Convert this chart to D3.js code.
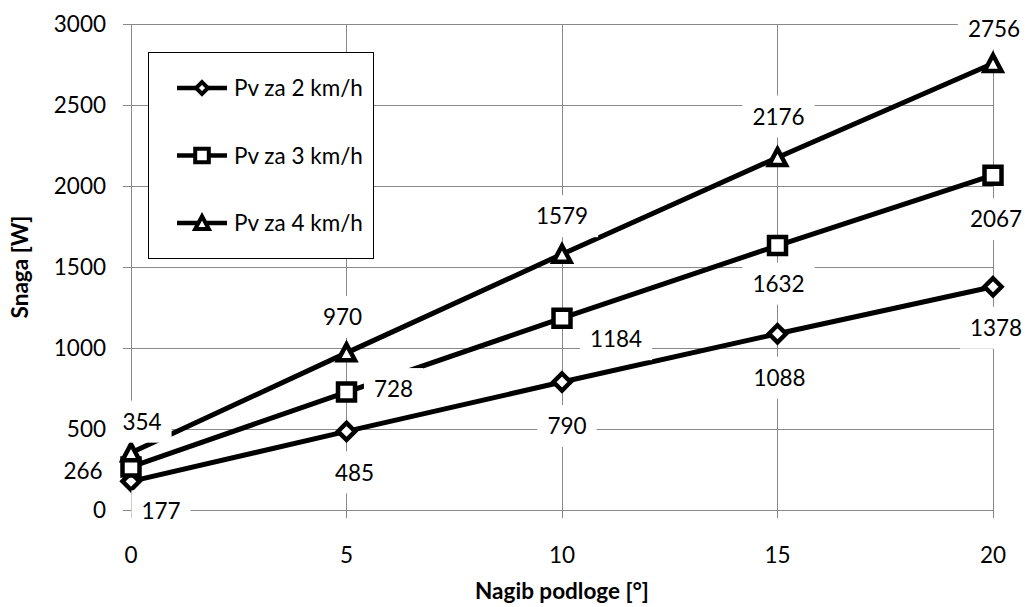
<!DOCTYPE html>
<html>
<head>
<meta charset="utf-8">
<script src="https://cdn.jsdelivr.net/npm/d3@7"></script>
<style>
  html, body { margin: 0; padding: 0; background: #fff; }
  svg { display: block; font-family: Lato, "Open Sans", sans-serif; }
</style>
</head>
<body>
<svg id="chart" width="1025" height="607"></svg>
<script>
// ---- data ----
const categories = [0, 5, 10, 15, 20];
const seriesNames = ["Pv za 2 km/h", "Pv za 3 km/h", "Pv za 4 km/h"];
const pv2 = [177, 485, 790, 1088, 1378];
const pv3 = [266, 728, 1184, 1632, 2067];
const pv4 = [354, 970, 1579, 2176, 2756];
const yTicks = [0, 500, 1000, 1500, 2000, 2500, 3000];
const xTicks = [0, 5, 10, 15, 20];
const xTitle = "Nagib podloge [°]";
const yTitle = "Snaga [W]";

// label placement (offsets from point, in px) -- layout only
const labelOffsets = [
  [[30, 30], [8, 41], [5, 44], [2, 44], [3, 41]],
  [[-48, 4], [47, -3], [54, 21], [1, 38], [3, 44]],
  [[11, -31], [-4, -36], [0, -38], [1, -41], [1, -35]]
];
const markerTypes = ["diamond", "square", "triangle"];

const series = [pv2, pv3, pv4].map((vals, i) => ({
  name: seriesNames[i], marker: markerTypes[i],
  points: vals.map((v, j) => ({ x: categories[j], y: v, off: labelOffsets[i][j] }))
}));

const svg = d3.select("#chart");
const x = d3.scaleLinear().domain([0, 20]).range([131, 993]);
const y = d3.scaleLinear().domain([0, 3000]).range([510, 24]);
const gridColor = "#898989";
const FONT = 22.5;

// gridlines
const grid = svg.append("g");
grid.selectAll("line.h").data(yTicks).join("line")
  .attr("x1", x(0) - 8).attr("x2", x(20))
  .attr("y1", d => y(d)).attr("y2", d => y(d))
  .attr("stroke", gridColor).attr("stroke-width", 1).attr("shape-rendering", "crispEdges");
grid.selectAll("line.v").data(xTicks).join("line")
  .attr("x1", d => x(d)).attr("x2", d => x(d))
  .attr("y1", y(3000)).attr("y2", y(0) + 8)
  .attr("stroke", gridColor).attr("stroke-width", 1).attr("shape-rendering", "crispEdges");

// tick labels
svg.append("g").selectAll("text").data(yTicks).join("text")
  .attr("x", 106).attr("y", d => y(d)).attr("dy", "0.36em")
  .attr("text-anchor", "end").attr("font-size", FONT).attr("fill", "#000")
  .text(d => d);
svg.append("g").selectAll("text").data(xTicks).join("text")
  .attr("x", d => x(d)).attr("y", 555).attr("dy", "0.36em")
  .attr("text-anchor", "middle").attr("font-size", FONT).attr("fill", "#000")
  .text(d => d);

// axis titles
svg.append("text").attr("x", (x(0) + x(20)) / 2).attr("y", 599)
  .attr("text-anchor", "middle").attr("font-size", FONT).attr("font-weight", "bold")
  .text(xTitle);
svg.append("text").attr("transform", `translate(28,${(y(0) + y(3000)) / 2}) rotate(-90)`)
  .attr("text-anchor", "middle").attr("font-size", FONT).attr("font-weight", "bold")
  .text(yTitle);

// marker path generator
function markerPath(type, s) {
  if (type === "diamond") return `M0,${-8.5*s}L${8.5*s},0L0,${8.5*s}L${-8.5*s},0Z`;
  if (type === "square") return `M${-8.5*s},${-8.5*s}H${8.5*s}V${8.5*s}H${-8.5*s}Z`;
  return `M0,${-8.5*s}L${8.5*s},${7.5*s}L${-8.5*s},${7.5*s}Z`;
}

// lines
const line = d3.line().x(d => x(d.x)).y(d => y(d.y));
svg.append("g").selectAll("path").data(series).join("path")
  .attr("d", d => line(d.points))
  .attr("fill", "none").attr("stroke", "#000").attr("stroke-width", 5)
  .attr("stroke-linejoin", "round");

// markers
series.forEach(s => {
  svg.append("g").selectAll("path").data(s.points).join("path")
    .attr("transform", d => `translate(${x(d.x)},${y(d.y)})`)
    .attr("d", markerPath(s.marker, 1))
    .attr("fill", "#fff").attr("stroke", "#000").attr("stroke-width", 4.5)
    .attr("stroke-linejoin", "miter");
});

// data labels with white background
const labels = svg.append("g");
series.forEach(s => {
  s.points.forEach(p => {
    const cx = x(p.x) + p.off[0], cy = y(p.y) + p.off[1];
    const g = labels.append("g");
    const rect = g.append("rect").attr("fill", "#fff");
    const t = g.append("text").attr("x", cx).attr("y", cy).attr("dy", "0.36em")
      .attr("text-anchor", "middle").attr("font-size", FONT).attr("fill", "#000")
      .text(p.y);
    const w = t.node().getComputedTextLength();
    rect.attr("x", cx - w / 2 - 10).attr("y", cy - 21).attr("width", w + 20).attr("height", 42);
  });
});

// legend
const lg = svg.append("g");
lg.append("rect").attr("x", 148.5).attr("y", 52.5).attr("width", 225).attr("height", 206)
  .attr("fill", "#fff").attr("stroke", "#000").attr("stroke-width", 1);
const legendY = d3.scalePoint().domain(seriesNames).range([88, 223]);
series.forEach(s => {
  const ly = legendY(s.name);
  lg.append("line").attr("x1", 177).attr("x2", 227).attr("y1", ly).attr("y2", ly)
    .attr("stroke", "#000").attr("stroke-width", 4.5);
  lg.append("path").attr("transform", `translate(202,${ly})`)
    .attr("d", markerPath(s.marker, s.marker === "diamond" ? 0.7 : 0.8))
    .attr("fill", "#fff").attr("stroke", "#000").attr("stroke-width", 4);
  lg.append("text").attr("x", 234).attr("y", ly).attr("dy", "0.36em")
    .attr("font-size", FONT).attr("fill", "#000").text(s.name);
});
</script>
</body>
</html>
